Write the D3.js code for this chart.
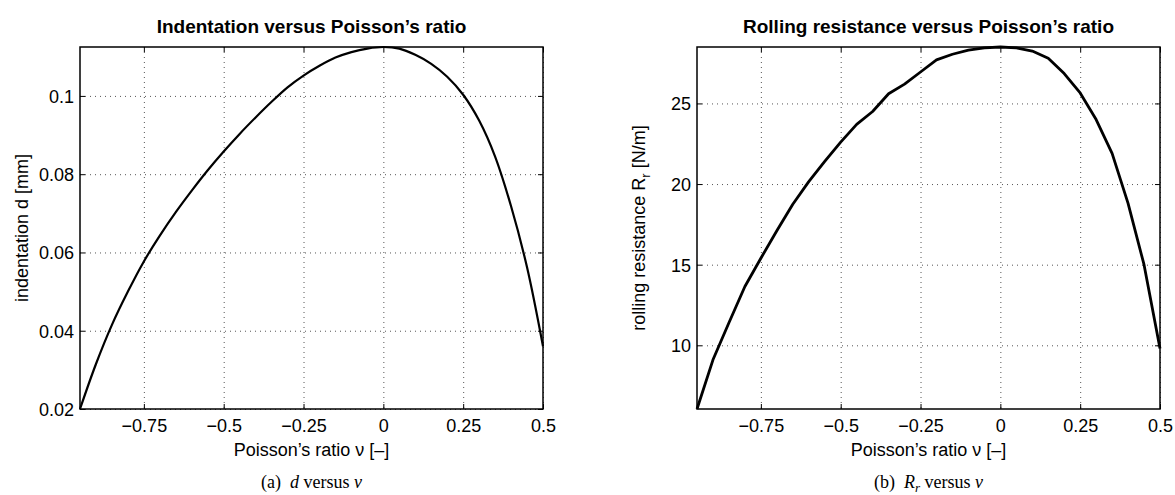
<!DOCTYPE html>
<html>
<head>
<meta charset="utf-8">
<script src="https://cdn.jsdelivr.net/npm/d3@7"></script>
<style>
  body { margin: 0; background: #fff; }
  svg text { font-family: "Liberation Sans", Arial, Helvetica, sans-serif; fill: #000; }
  .grid line { stroke: #555; stroke-dasharray: 1,4; stroke-width: 1; }
  .grid path { display: none; }
  .ax path { display: none; }
  .ax line { stroke: #000; stroke-width: 1; }
  .caption { font-family: "Liberation Serif", "Times New Roman", serif !important; }
</style>
</head>
<body>
<script>
// Poisson's ratio samples
var nu = [-0.95, -0.90, -0.85, -0.80, -0.75, -0.70, -0.65, -0.60, -0.55, -0.50,
          -0.45, -0.40, -0.35, -0.30, -0.25, -0.20, -0.15, -0.10, -0.05, 0.00,
           0.05,  0.10,  0.15,  0.20,  0.25,  0.30,  0.35,  0.40,  0.45, 0.50];

// indentation d [mm]
var indentation = [0.0200, 0.0315, 0.0415, 0.0500, 0.0577, 0.0643, 0.0703, 0.0758, 0.0810, 0.0858,
                   0.0903, 0.0945, 0.0985, 0.1022, 0.1052, 0.1077, 0.1098, 0.1112, 0.1121, 0.1125,
                   0.1121, 0.1105, 0.1082, 0.1049, 0.1003, 0.0937, 0.0845, 0.0718, 0.0562, 0.0360];

// rolling resistance Rr [N/m]
var rolling = [6.05, 9.10, 11.40, 13.65, 15.40, 17.10, 18.75, 20.15, 21.40, 22.60,
               23.70, 24.50, 25.60, 26.20, 26.95, 27.70, 28.05, 28.30, 28.45, 28.50,
               28.45, 28.25, 27.80, 26.85, 25.65, 24.00, 21.90, 18.80, 15.00, 9.80];

var xTicks = [-0.75, -0.5, -0.25, 0, 0.25, 0.5],
    xTickLabels = ['\u22120.75', '\u22120.5', '\u22120.25', '0', '0.25', '0.5'],
    dTicks = [0.02, 0.04, 0.06, 0.08, 0.1],
    dTickLabels = ['0.02', '0.04', '0.06', '0.08', '0.1'],
    rTicks = [10, 15, 20, 25],
    rTickLabels = ['10', '15', '20', '25'];

var W = 1175, H = 495;
var svg = d3.select('body').append('svg').attr('width', W).attr('height', H);

var panels = [
  {left: 80, top: 47, w: 463, h: 362, vals: indentation, yTicks: dTicks, yLabels: dTickLabels,
   title: 'Indentation versus Poisson\u2019s ratio', ylab: 'indentation d [mm]', lw: 2.2, tag: 'a',
   curve: d3.curveCatmullRom},
  {left: 697, top: 47, w: 463, h: 362, vals: rolling, yTicks: rTicks, yLabels: rTickLabels,
   title: 'Rolling resistance versus Poisson\u2019s ratio', ylab: 'rolling resistance R', lw: 2.8, tag: 'b',
   curve: d3.curveLinear}
];

panels.forEach(function(p) {
  var g = svg.append('g').attr('transform', 'translate(' + p.left + ',' + p.top + ')');
  var x = d3.scaleLinear().domain(d3.extent(nu)).range([0, p.w]);
  var y = d3.scaleLinear().domain(d3.extent(p.vals)).range([p.h, 0]);

  // dotted grid
  g.append('g').attr('class', 'grid')
    .call(d3.axisBottom(x).tickValues(xTicks).tickSize(p.h).tickFormat(''));
  g.append('g').attr('class', 'grid')
    .call(d3.axisRight(y).tickValues(p.yTicks).tickSize(p.w).tickFormat(''));

  // inward ticks on all four sides
  var bottom = g.append('g').attr('class', 'ax').attr('transform', 'translate(0,' + p.h + ')')
    .call(d3.axisBottom(x).tickValues(xTicks).tickSizeInner(-5).tickSizeOuter(0).tickPadding(10)
      .tickFormat(function(d, i) { return xTickLabels[i]; }));
  g.append('g').attr('class', 'ax')
    .call(d3.axisTop(x).tickValues(xTicks).tickSizeInner(-5).tickSizeOuter(0).tickFormat(''));
  var left = g.append('g').attr('class', 'ax')
    .call(d3.axisLeft(y).tickValues(p.yTicks).tickSizeInner(-5).tickSizeOuter(0).tickPadding(6)
      .tickFormat(function(d, i) { return p.yLabels[i]; }));
  g.append('g').attr('class', 'ax').attr('transform', 'translate(' + p.w + ',0)')
    .call(d3.axisRight(y).tickValues(p.yTicks).tickSizeInner(-5).tickSizeOuter(0).tickFormat(''));
  bottom.selectAll('text').style('font-size', '18px');
  left.selectAll('text').style('font-size', '18px').attr('dy', '0.36em');

  // curve
  g.append('path').datum(nu)
    .attr('fill', 'none').attr('stroke', '#000').attr('stroke-width', p.lw)
    .attr('stroke-linejoin', 'round')
    .attr('d', d3.line().curve(p.curve)
                        .x(function(d) { return x(d); })
                        .y(function(d, i) { return y(p.vals[i]); }));

  // box
  g.append('rect').attr('width', p.w).attr('height', p.h)
    .attr('fill', 'none').attr('stroke', '#000').attr('stroke-width', 1.5);

  // title
  g.append('text').attr('x', p.w / 2).attr('y', -14).attr('text-anchor', 'middle')
    .style('font-size', '19px').style('font-weight', 'bold').text(p.title);

  // x label
  g.append('text').attr('x', p.w / 2).attr('y', p.h + 47).attr('text-anchor', 'middle')
    .style('font-size', '18px').text('Poisson\u2019s ratio \u03bd [\u2013]');

  // y label
  var yl = g.append('text').attr('transform', 'translate(-52,' + p.h / 2 + ') rotate(-90)')
    .attr('text-anchor', 'middle').style('font-size', '18px').text(p.ylab);
  if (p.tag === 'b') {
    yl.append('tspan').attr('dy', 5).style('font-size', '13px').text('r');
    yl.append('tspan').attr('dy', -5).text(' [N/m]');
  }

  // caption
  var cap = svg.append('text').attr('class', 'caption')
    .attr('x', p.left + p.w / 2).attr('y', 488).attr('text-anchor', 'middle')
    .style('font-size', '18px');
  cap.append('tspan').text('(' + p.tag + ')\u00a0\u00a0');
  if (p.tag === 'a') {
    cap.append('tspan').style('font-style', 'italic').text('d');
    cap.append('tspan').text(' versus ');
  } else {
    cap.append('tspan').style('font-style', 'italic').text('R');
    cap.append('tspan').style('font-style', 'italic').style('font-size', '13px').attr('dy', 4).text('r');
    cap.append('tspan').attr('dy', -4).text(' versus ');
  }
  cap.append('tspan').style('font-style', 'italic').text('\u03bd');
});
</script>
</body>
</html>
